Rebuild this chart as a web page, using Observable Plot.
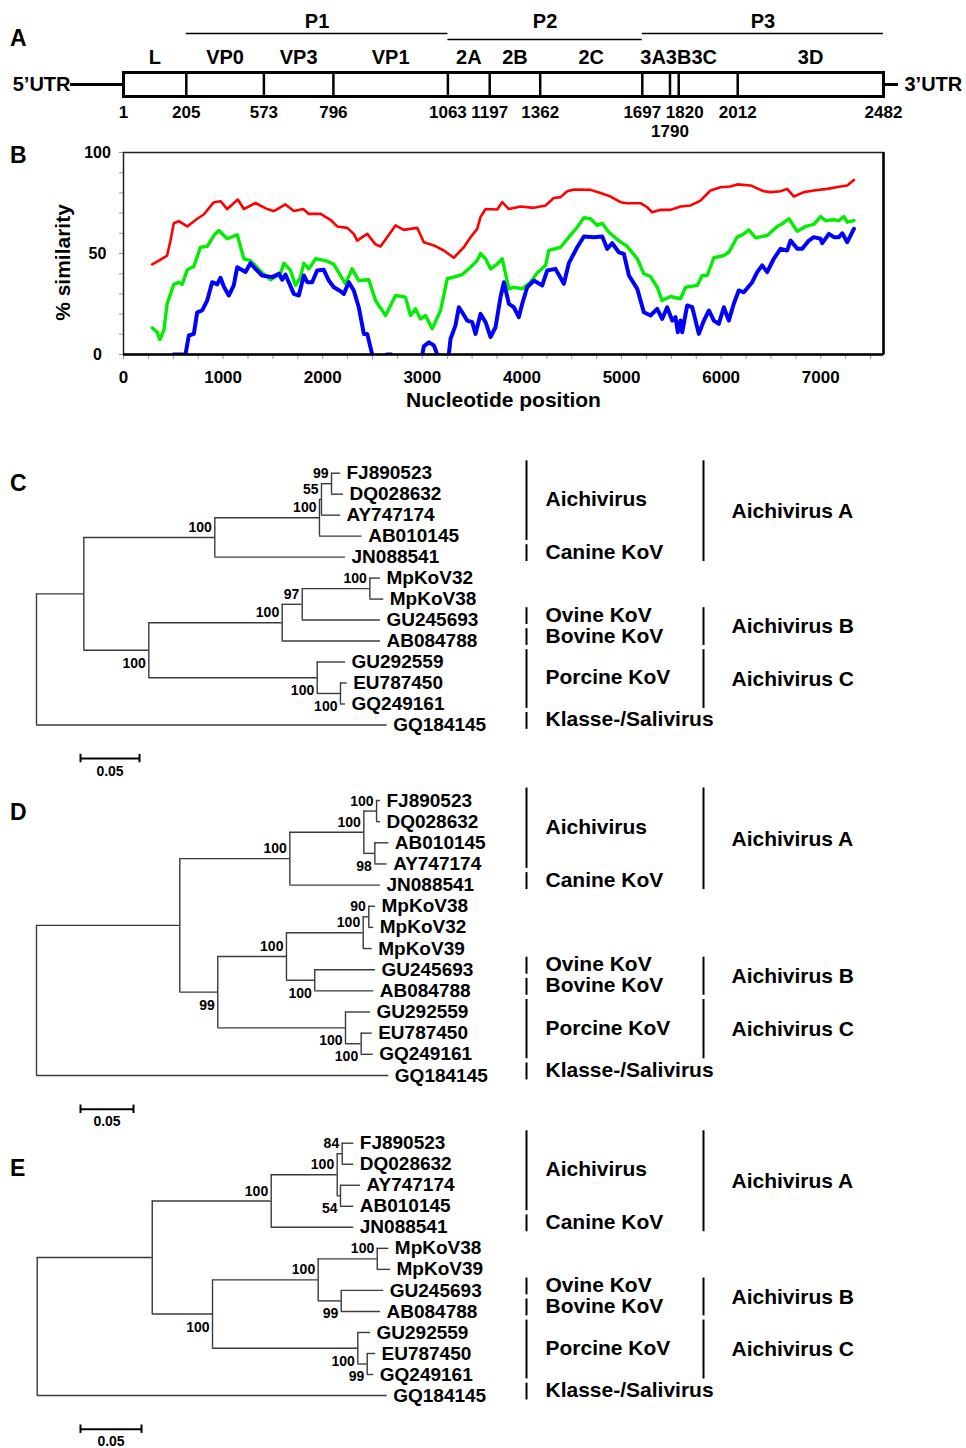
<!DOCTYPE html>
<html><head><meta charset="utf-8">
<script src="https://cdn.jsdelivr.net/npm/d3@7"></script>
<script src="https://cdn.jsdelivr.net/npm/@observablehq/plot@0.6"></script>
<style>
body{margin:0;background:#fff;}
#fig{position:relative;width:966px;height:1448px;overflow:hidden;background:#fff;font-family:"Liberation Sans",Arial,Helvetica,sans-serif;font-weight:bold;color:#000;}
#fig svg{position:absolute;left:0;overflow:visible;max-width:none;background:transparent;}
.letter{position:absolute;left:10px;font-size:23px;line-height:23px;font-weight:bold;}
</style></head><body><div id="fig"></div>
<script>
// ---------- DATA ----------
// Panel A: genome map (amino-acid positions)
const boundaries = [1, 205, 573, 796, 1063, 1197, 1362, 1697, 1790, 1820, 2012, 2482];
const geneNames = ["L", "VP0", "VP3", "VP1", "2A", "2B", "2C", "3A", "3B", "3C", "3D"];
const polyNames = ["P1", "P2", "P3"];
const polyStart = [205, 1063, 1697];
const polyEnd = [1063, 1697, 2482];

// Panel B: similarity plot [nucleotide position, % similarity]
const xTicksB = [0, 1000, 2000, 3000, 4000, 5000, 6000, 7000];
const yTicksB = [0, 50, 100];
const similarityRed = [[288,44.6],[355,46.5],[438,49],[472,56.4],[505,65],[555,66],[640,63.4],[740,67.2],[806,69.3],[907,75.4],[974,75.9],[1041,72],[1148,76.7],[1208,72],[1325,75],[1443,72],[1509,71],[1626,74.3],[1710,71],[1804,72],[1861,69.6],[1978,69.6],[2078,66.7],[2145,63.4],[2246,62.7],[2312,59.7],[2346,56.4],[2447,59.7],[2530,54.5],[2580,53.5],[2731,63.9],[2814,61.7],[2949,62.7],[3015,55.6],[3116,54],[3216,51.5],[3316,47.9],[3417,53.1],[3484,58],[3551,62.2],[3584,68],[3635,72],[3752,71.8],[3802,75.4],[3869,72],[3986,73.3],[4120,72.6],[4237,73.8],[4320,77.5],[4388,77.9],[4455,80.8],[4521,81.7],[4689,81.5],[4789,79.9],[4890,78.2],[4990,75.4],[5057,74.9],[5191,74.9],[5258,72.9],[5308,70.4],[5392,71.6],[5492,71.6],[5592,73.3],[5693,73.8],[5793,76.2],[5893,81.2],[5994,82.8],[6094,83.2],[6161,84.2],[6295,83.7],[6429,80.8],[6496,80.4],[6596,80.8],[6663,82],[6730,78.2],[6831,80.4],[6931,81.2],[7065,82],[7199,83.2],[7266,83.7],[7333,86.4]];
const similarityGreen = [[288,13.2],[338,11],[365,7.4],[405,11.9],[438,25.1],[505,34.7],[555,35.8],[589,34.7],[640,41.9],[706,43.6],[773,53.1],[840,53.5],[907,58.9],[957,61.4],[1041,57.3],[1142,59.3],[1208,47.4],[1275,46.5],[1376,41.2],[1476,37],[1576,40],[1610,45.2],[1677,41.6],[1727,34.2],[1777,38.3],[1810,45.2],[1861,42.4],[1928,47.4],[2028,46.5],[2112,44.6],[2179,39.1],[2229,35],[2295,42.4],[2362,36.6],[2463,37],[2530,26.7],[2631,19.3],[2731,29.2],[2831,28.4],[2881,19.3],[2932,22.6],[2982,17.6],[3032,19.3],[3099,12.7],[3183,21.8],[3250,37.5],[3333,38.6],[3400,39.6],[3484,43.2],[3551,46.5],[3584,50],[3635,47.4],[3685,42.4],[3752,44.8],[3802,47.4],[3869,32.5],[3919,33.3],[4003,32.5],[4086,35.8],[4153,40.3],[4237,44.1],[4270,51.5],[4388,53.1],[4471,58.1],[4555,63],[4622,67.7],[4689,67.2],[4756,63.9],[4806,65],[4873,60.5],[4973,56.4],[5057,53.5],[5158,47.4],[5224,40],[5291,38.6],[5358,33.3],[5408,26.7],[5492,28.7],[5592,27.6],[5643,33.3],[5760,34.2],[5810,39.1],[5860,39.1],[5927,47.9],[6027,49],[6077,50.6],[6161,58.1],[6228,59.7],[6278,61.7],[6345,57.8],[6462,58.9],[6563,63.4],[6613,64.7],[6680,67.2],[6764,61],[6847,63.4],[6931,64.4],[6998,68.3],[7048,66.3],[7132,66.7],[7182,66.3],[7232,68.3],[7266,65.5],[7333,66.3]];
const similarityBlue = [[500,0],[622,0],[656,9.4],[706,10.2],[740,20.9],[790,21.8],[840,26.7],[890,35.8],[941,34.7],[974,38],[1007,33.7],[1057,29.2],[1107,34.2],[1142,43.2],[1225,40.8],[1275,45.2],[1325,42.4],[1392,39.1],[1493,38.3],[1560,40],[1593,37],[1626,39.6],[1710,30],[1760,29.2],[1810,39.1],[1844,35.8],[1894,35.8],[1944,41.6],[2011,41.9],[2061,36.6],[2112,33.3],[2179,31.3],[2212,30],[2262,35.8],[2312,31.7],[2362,23.4],[2413,10.2],[2447,10.2],[2497,0],[2500,null],[2640,0],[2690,0],[2700,null],[3000,0],[3015,4],[3066,6],[3116,4.5],[3150,0],[3200,null],[3266,0],[3283,7.7],[3333,14.4],[3367,23.4],[3400,20.9],[3450,16.8],[3501,16],[3534,10.2],[3584,20.1],[3635,16],[3685,8.6],[3735,13.5],[3785,28.4],[3819,35.8],[3869,25.1],[3919,23.4],[3969,18.5],[4003,25.1],[4053,33.3],[4120,36.6],[4204,34.2],[4254,41.6],[4337,42.4],[4421,35],[4471,45.2],[4555,53.1],[4622,58.4],[4722,58.1],[4806,58.4],[4856,52.3],[4906,55.1],[4973,50.6],[5024,49.8],[5074,39.1],[5158,32.5],[5224,20.9],[5291,19.3],[5358,22.6],[5408,17.6],[5458,23.4],[5509,16.8],[5542,18.5],[5565,11],[5592,16.8],[5609,11],[5659,24.3],[5710,23.4],[5776,10.2],[5827,16.8],[5877,21.8],[5927,16.8],[5977,15.2],[6027,23.4],[6077,16.8],[6127,25.1],[6177,31.7],[6228,30.8],[6312,35.8],[6362,40.8],[6412,44.1],[6462,40.8],[6529,47.4],[6596,52.3],[6663,51.5],[6697,56.4],[6764,52.3],[6814,52.3],[6881,56.4],[6931,58.1],[6998,57.3],[7015,55.1],[7082,59.7],[7132,58.1],[7182,58.1],[7216,60],[7266,55.6],[7333,62.2]];

// Panels C, D, E: phylogenetic trees (Newick, bootstrap values as node names)
const treeC = "((((((FJ890523:0.0076,DQ028632:0.0102)99:0.0085,AY747174:0.0161)55:0.0017,AB010145:0.0362)100:0.0887,JN088541:0.1108)100:0.111,((((MpKoV32:0.009,MpKoV38:0.0118)100:0.0573,GU245693:0.0663)97:0.017,AB084788:0.0833)100:0.113,(GU292559:0.024,(EU787450:0.0057,GQ249161:0.0043)100:0.0197)100:0.1427)100:0.0551):0.0401,GQ184145:0.2972);";
const treeD = "(((((FJ890523:0.0037,DQ028632:0.0037)100:0.012,(AB010145:0.0132,AY747174:0.0116)98:0.0104)100:0.0698,JN088541:0.0855)100:0.1038,((((MpKoV38:0.0063,MpKoV32:0.0047)90:0.0053,MpKoV39:0.0085)100:0.0724,(GU245693:0.0573,AB084788:0.0557)100:0.0267)100:0.0648,(GU292559:0.0236,(EU787450:0.0104,GQ249161:0.0113)100:0.0148)100:0.1205)99:0.0358):0.1352,GQ184145:0.3324);";
const treeE = "(((((FJ890523:0.0095,DQ028632:0.0095)84:0.0041,(AY747174:0.0164,AB010145:0.0109)54:0.0027)100:0.0541,JN088541:0.0677)100:0.0975,(((MpKoV38:0.0095,MpKoV39:0.0109)100:0.0484,(GU245693:0.0349,AB084788:0.0322)99:0.0189)100:0.0866,(GU292559:0.0104,(EU787450:0.0068,GQ249161:0.0054)99:0.0077)100:0.1191)100:0.0494):0.0943,GQ184145:0.2869);";
const scaleBarLength = 0.05;

const clades = [
  {label: "Aichivirus", members: ["FJ890523", "DQ028632", "AY747174", "AB010145"]},
  {label: "Canine KoV", members: ["JN088541"]},
  {label: "Ovine KoV", members: ["GU245693"]},
  {label: "Bovine KoV", members: ["AB084788"]},
  {label: "Porcine KoV", members: ["GU292559", "EU787450", "GQ249161"]},
  {label: "Klasse-/Salivirus", members: ["GQ184145"]}
];
const genera = [
  {label: "Aichivirus A", members: ["FJ890523", "DQ028632", "AY747174", "AB010145", "JN088541"]},
  {label: "Aichivirus B", members: ["GU245693", "AB084788"]},
  {label: "Aichivirus C", members: ["GU292559", "EU787450", "GQ249161"]}
];

// ---------- DRAWING ----------
const FONT = "'Liberation Sans', Arial, Helvetica, sans-serif";
const baseStyle = `background:transparent;overflow:visible;font-family:${FONT};font-weight:bold;color:#000;`;
const fig = document.getElementById("fig");
function place(svg, top) { svg.style.position = "absolute"; svg.style.left = "0px"; svg.style.top = top + "px"; fig.appendChild(svg); }
function letter(ch, top) { const d = document.createElement("div"); d.className = "letter"; d.textContent = ch; d.style.top = top + "px"; fig.appendChild(d); }

// ----- Panel A -----
// schematic (non-proportional) layout of the genome map: piecewise transform of positions
const xRangeA = [123, 185.8, 263.4, 332.9, 447.4, 489.2, 539.7, 641.8, 669.5, 678.2, 737.2, 883];
const xA = d3.scaleLinear(boundaries, xRangeA);
const pxMid = (a, b) => xA.invert((xA(a) + xA(b)) / 2);
const genes = geneNames.map((name, i) => ({name, start: boundaries[i], end: boundaries[i + 1]}));
const small3 = genes.filter(g => /^3[ABC]$/.test(g.name));
const bigGenes = genes.filter(g => !/^3[ABC]$/.test(g.name));
const polys = polyNames.map((name, i) => ({name, start: polyStart[i], end: polyEnd[i]}));
const first = boundaries[0], last = boundaries[boundaries.length - 1];

place(Plot.plot({
  width: 966, height: 140, marginTop: 72, marginBottom: 44, marginLeft: 123, marginRight: 83,
  style: baseStyle,
  x: {transform: v => xA(v), domain: [xA(first), xA(last)], axis: null},
  marks: [
    Plot.ruleY(polys, {filter: (d, i) => i !== 1, x1: "start", x2: "end", y: null, dy: -51, stroke: "#000", strokeWidth: 1.5}),
    Plot.ruleY(polys, {filter: (d, i) => i === 1, x1: "start", x2: "end", y: null, dy: -45, stroke: "#000", strokeWidth: 1.5}),
    Plot.text(polys, {x: d => pxMid(d.start, d.end), text: "name", frameAnchor: "top", lineAnchor: "middle", textAnchor: "middle", dy: -51, fontSize: 20}),
    Plot.text(bigGenes, {x: d => pxMid(d.start, d.end), text: "name", frameAnchor: "top", lineAnchor: "middle", textAnchor: "middle", dy: -15, fontSize: 20}),
    Plot.text([small3.map(g => g.name).join("")], {x: () => small3[0].start, frameAnchor: "top", lineAnchor: "middle", textAnchor: "start", dx: -2, dy: -15, fontSize: 20}),
    Plot.ruleY([first], {x1: d => d, x2: d => d, y: null, insetLeft: -53, stroke: "#000", strokeWidth: 3}),
    Plot.ruleY([last], {x1: d => d, x2: d => d, y: null, insetRight: -15, stroke: "#000", strokeWidth: 3}),
    Plot.text(["5\u2019UTR"], {x: () => first, frameAnchor: "middle", lineAnchor: "middle", textAnchor: "end", dx: -53, fontSize: 20}),
    Plot.text(["3\u2019UTR"], {x: () => last, frameAnchor: "middle", lineAnchor: "middle", textAnchor: "start", dx: 21, fontSize: 20}),
    Plot.frame({stroke: "#000", strokeWidth: 3}),
    Plot.ruleX(boundaries.slice(1, -1), {x: d => d, stroke: "#000", strokeWidth: 2.5}),
    Plot.text(boundaries, {filter: d => d !== 1790 && d !== 1820, x: d => d, text: d => String(d), frameAnchor: "bottom", lineAnchor: "middle", textAnchor: "middle", dy: 16, fontSize: 17}),
    Plot.text(boundaries, {filter: d => d === 1820, x: d => d, text: d => String(d), frameAnchor: "bottom", lineAnchor: "middle", textAnchor: "middle", dx: 6, dy: 16, fontSize: 17}),
    Plot.text(boundaries, {filter: d => d === 1790, x: d => d, text: d => String(d), frameAnchor: "bottom", lineAnchor: "middle", textAnchor: "middle", dy: 35, fontSize: 17})
  ]
}), 0);

// ----- Panel B -----
const xMaxB = 7630;
const xMinorB = d3.range(0, 7501, 250);
const yMinorB = d3.range(0, 101, 10);
place(Plot.plot({
  width: 966, height: 280, marginTop: 12, marginBottom: 66, marginLeft: 123, marginRight: 83,
  style: baseStyle,
  x: {domain: [0, xMaxB], axis: null},
  y: {domain: [0, 100], axis: null},
  marks: [
    Plot.ruleX(xMinorB, {x: d => d, y1: 0, y2: -2.5, stroke: "#999", strokeWidth: 1}),
    Plot.ruleY(yMinorB, {y: d => d, x1: 0, x2: -40, stroke: "#999", strokeWidth: 1}),
    Plot.line(similarityRed, {x: d => d[0], y: d => d[1], stroke: "#ff0000", strokeWidth: 2.6, clip: true}),
    Plot.line(similarityGreen, {x: d => d[0], y: d => d[1], stroke: "#00ee00", strokeWidth: 3.4, clip: true}),
    Plot.line(similarityBlue, {x: d => d[0], y: d => d[1], stroke: "#0000ff", strokeWidth: 4, clip: true}),
    Plot.frame({stroke: "#222", strokeWidth: 1.5}),
    Plot.ruleY([0], {stroke: "#000", strokeWidth: 2.5}),
    Plot.ruleX([xMaxB], {stroke: "#000", strokeWidth: 2.5}),
    Plot.text(xTicksB, {x: d => d, text: d => String(d), frameAnchor: "bottom", lineAnchor: "middle", textAnchor: "middle", dy: 23, fontSize: 17}),
    Plot.text(yTicksB, {y: d => d, text: d => String(d), frameAnchor: "left", lineAnchor: "middle", textAnchor: "middle", dx: -26, fontSize: 16}),
    Plot.text(["Nucleotide position"], {frameAnchor: "bottom", lineAnchor: "middle", textAnchor: "middle", dy: 46, fontSize: 21}),
    Plot.text(["% similarity"], {frameAnchor: "left", lineAnchor: "middle", textAnchor: "middle", rotate: -90, dx: -60, dy: 9, fontSize: 21})
  ]
}), 140);

// ----- Trees -----
function parseNewick(s) {
  s = s.replace(/;\s*$/, "");
  let i = 0;
  function node() {
    const n = {children: [], name: "", length: 0};
    if (s[i] === "(") {
      i++;
      n.children.push(node());
      while (s[i] === ",") { i++; n.children.push(node()); }
      i++;
    }
    let t = "";
    while (i < s.length && !":,()".includes(s[i])) t += s[i++];
    n.name = t;
    if (s[i] === ":") {
      i++;
      let l = "";
      while (i < s.length && !",()".includes(s[i])) l += s[i++];
      n.length = +l;
    }
    return n;
  }
  return node();
}
function layoutTree(root) {
  const leaves = [], internals = [], branches = [];
  let k = 0;
  (function walk(n, px, parent, isFirst) {
    n.px = px; n.x = px + n.length; n.first = isFirst;
    if (n.children.length) {
      n.children.forEach((c, j) => walk(c, n.x, n, j === 0));
      n.y1 = n.children[0].y; n.y2 = n.children[n.children.length - 1].y; n.y = (n.y1 + n.y2) / 2;
      internals.push(n);
    } else { n.y = k++; leaves.push(n); }
    if (parent) branches.push(n);
  })(root, 0, null, true);
  return {leaves, internals, branches};
}
const treeColor = "#3a3a3a";
function drawTree(newick, cfg) {
  const {leaves, internals, branches} = layoutTree(parseNewick(newick));
  const n = leaves.length;
  const idx = new Map(leaves.map(l => [l.name, l.y]));
  const yOpt = {domain: [0, n - 1], range: [cfg.y0, cfg.y0 + (n - 1) * cfg.step], axis: null};
  const boot = internals.filter(d => d.name);
  const barY = n - 1 + 1.6;
  place(Plot.plot({
    width: 966, height: cfg.height, margin: 0, style: baseStyle,
    x: {domain: [0, 1], range: [cfg.x0, cfg.x0 + cfg.ppu], axis: null},
    y: yOpt,
    marks: [
      Plot.ruleY(branches, {x1: "px", x2: "x", y: "y", stroke: treeColor, strokeWidth: 1.4}),
      Plot.ruleX(internals, {x: "x", y1: "y1", y2: "y2", stroke: treeColor, strokeWidth: 1.4}),
      Plot.text(leaves, {x: "x", y: "y", text: "name", dx: 6, textAnchor: "start", lineAnchor: "middle", fontSize: 19}),
      Plot.text(boot.filter(d => d.first), {x: "x", y: "y", text: "name", dx: -3, dy: -10, textAnchor: "end", lineAnchor: "middle", fontSize: 14}),
      Plot.text(boot.filter(d => !d.first), {x: "x", y: "y", text: "name", dx: -3, dy: 13, textAnchor: "end", lineAnchor: "middle", fontSize: 14}),
      Plot.ruleY([scaleBarLength], {x1: 0, x2: d => d, y: () => barY, dx: cfg.barDx, stroke: "#000", strokeWidth: 2}),
      Plot.ruleX([0, scaleBarLength], {x: d => d, y1: () => barY - 0.2, y2: () => barY + 0.2, dx: cfg.barDx, stroke: "#000", strokeWidth: 2}),
      Plot.text([scaleBarLength], {x: d => d / 2, y: () => n - 1 + 2.2, text: d => String(d), dx: cfg.barDx, textAnchor: "middle", lineAnchor: "middle", fontSize: 14})
    ]
  }), cfg.top);
  const span = g => { const ys = g.members.map(m => idx.get(m)).filter(v => v !== undefined); return {label: g.label, lo: d3.min(ys), hi: d3.max(ys)}; };
  const cl = clades.map(span), ge = genera.map(span);
  place(Plot.plot({
    width: 966, height: cfg.height, margin: 0, style: baseStyle,
    x: {type: "point", domain: ["clade", "genus"], range: [526, 703], padding: 0, axis: null},
    y: yOpt,
    marks: [
      Plot.ruleX(cl, {x: () => "clade", y1: d => d.lo - 0.59, y2: d => d.hi + 0.21, stroke: "#000", strokeWidth: 2}),
      Plot.ruleX(ge, {x: () => "genus", y1: d => d.lo - 0.59, y2: d => d.hi + 0.21, stroke: "#000", strokeWidth: 2}),
      Plot.text(cl, {x: () => "clade", y: d => (d.lo + d.hi) / 2 - 0.25, text: "label", dx: 19, textAnchor: "start", lineAnchor: "middle", fontSize: 21}),
      Plot.text(ge, {x: () => "genus", y: d => (d.lo + d.hi) / 2 - 0.19, text: "label", dx: 28, textAnchor: "start", lineAnchor: "middle", fontSize: 21})
    ]
  }), cfg.top);
}
drawTree(treeC, {top: 440, height: 340, y0: 32.7, step: 20.98, x0: 36, ppu: 1180, barDx: 44});
drawTree(treeD, {top: 780, height: 350, y0: 20, step: 21.15, x0: 36, ppu: 1060, barDx: 44});
drawTree(treeE, {top: 1130, height: 318, y0: 12.7, step: 21.03, x0: 36.7, ppu: 1220, barDx: 43.3});

letter("A", 26.5); letter("B", 143.5); letter("C", 471.5); letter("D", 800.5); letter("E", 1156.7);
</script></body></html>
